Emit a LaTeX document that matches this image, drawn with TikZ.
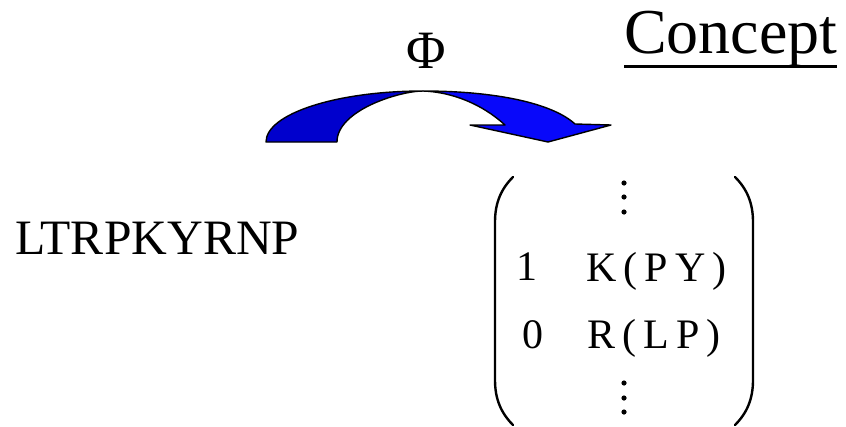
\documentclass[tikz,border=0pt]{standalone}
\usepackage{fontspec}
\setmainfont{Liberation Serif}
\newfontfamily\timesfont{Liberation Serif}
\newfontfamily\spacedserif[LetterSpace=17]{Liberation Serif}
\definecolor{arrowdark}{RGB}{0,0,205}
\definecolor{arrowlight}{RGB}{8,8,250}
\begin{document}
\begin{tikzpicture}[x=1pt,y=-1pt,
  label/.style={inner sep=0pt,outer sep=0pt,anchor=base west},
  band/.style={draw=black,line width=1.4pt,line join=round},
  paren/.style={draw=black,line width=2.4pt,line cap=round},
  vdot/.style={fill=black}]
\useasboundingbox (0,0) rectangle (846,426);

% curved arrow, left (shaded) half
\path[band,fill=arrowdark]
  (266,142) arc[start angle=180,end angle=270,x radius=157,y radius=51]
  .. controls (400,91) and (337,110) .. (337,142) -- cycle;
% curved arrow, right half with its head
\path[band,fill=arrowlight]
  (423,91) .. controls (495,91) and (552,103) .. (575,124)
  -- (611,125) -- (548,142) -- (470,125) -- (505,125)
  .. controls (482,104) and (452,92) .. (423,91) -- cycle;

% labels
\node[inner sep=0pt,anchor=base,font=\fontsize{54pt}{60pt}\timesfont] (phi) at (426,68) {Φ};
\node[label,font=\fontsize{64pt}{72pt}\timesfont] (concept) at (624,53) {Concept};
\draw[line width=3.4pt] ([yshift=-13.5pt]concept.base west) -- ([yshift=-13.5pt]concept.base east);
\node[label,font=\fontsize{49.5pt}{56pt}\timesfont] (seq) at (15,254) {LTRPKYRNP};

% vector entries
\node[inner sep=0pt,anchor=base,font=\fontsize{42pt}{48pt}\timesfont] (one) at (527,280) {1};
\node[inner sep=0pt,anchor=base,font=\fontsize{42pt}{48pt}\timesfont] (zero) at (533,348) {0};
\node[label,font=\fontsize{42pt}{48pt}\spacedserif] (kpy) at (586,281) {K(PY)};
\node[label,font=\fontsize{42pt}{48pt}\spacedserif] (rlp) at (587,348) {R(LP)};

% vertical ellipses
\foreach \yy in {183,197,212,383,398,412}
  \fill[vdot] (624,\yy) circle[radius=2.6];

% large parentheses
\draw[paren] (513,177) .. controls (501,189) and (495,203) .. (495,222)
  -- (495,380) .. controls (495,399) and (501,413) .. (513,425);
\draw[paren] (735,177) .. controls (747,189) and (753,203) .. (753,222)
  -- (753,380) .. controls (753,399) and (747,413) .. (735,425);
\end{tikzpicture}
\end{document}
